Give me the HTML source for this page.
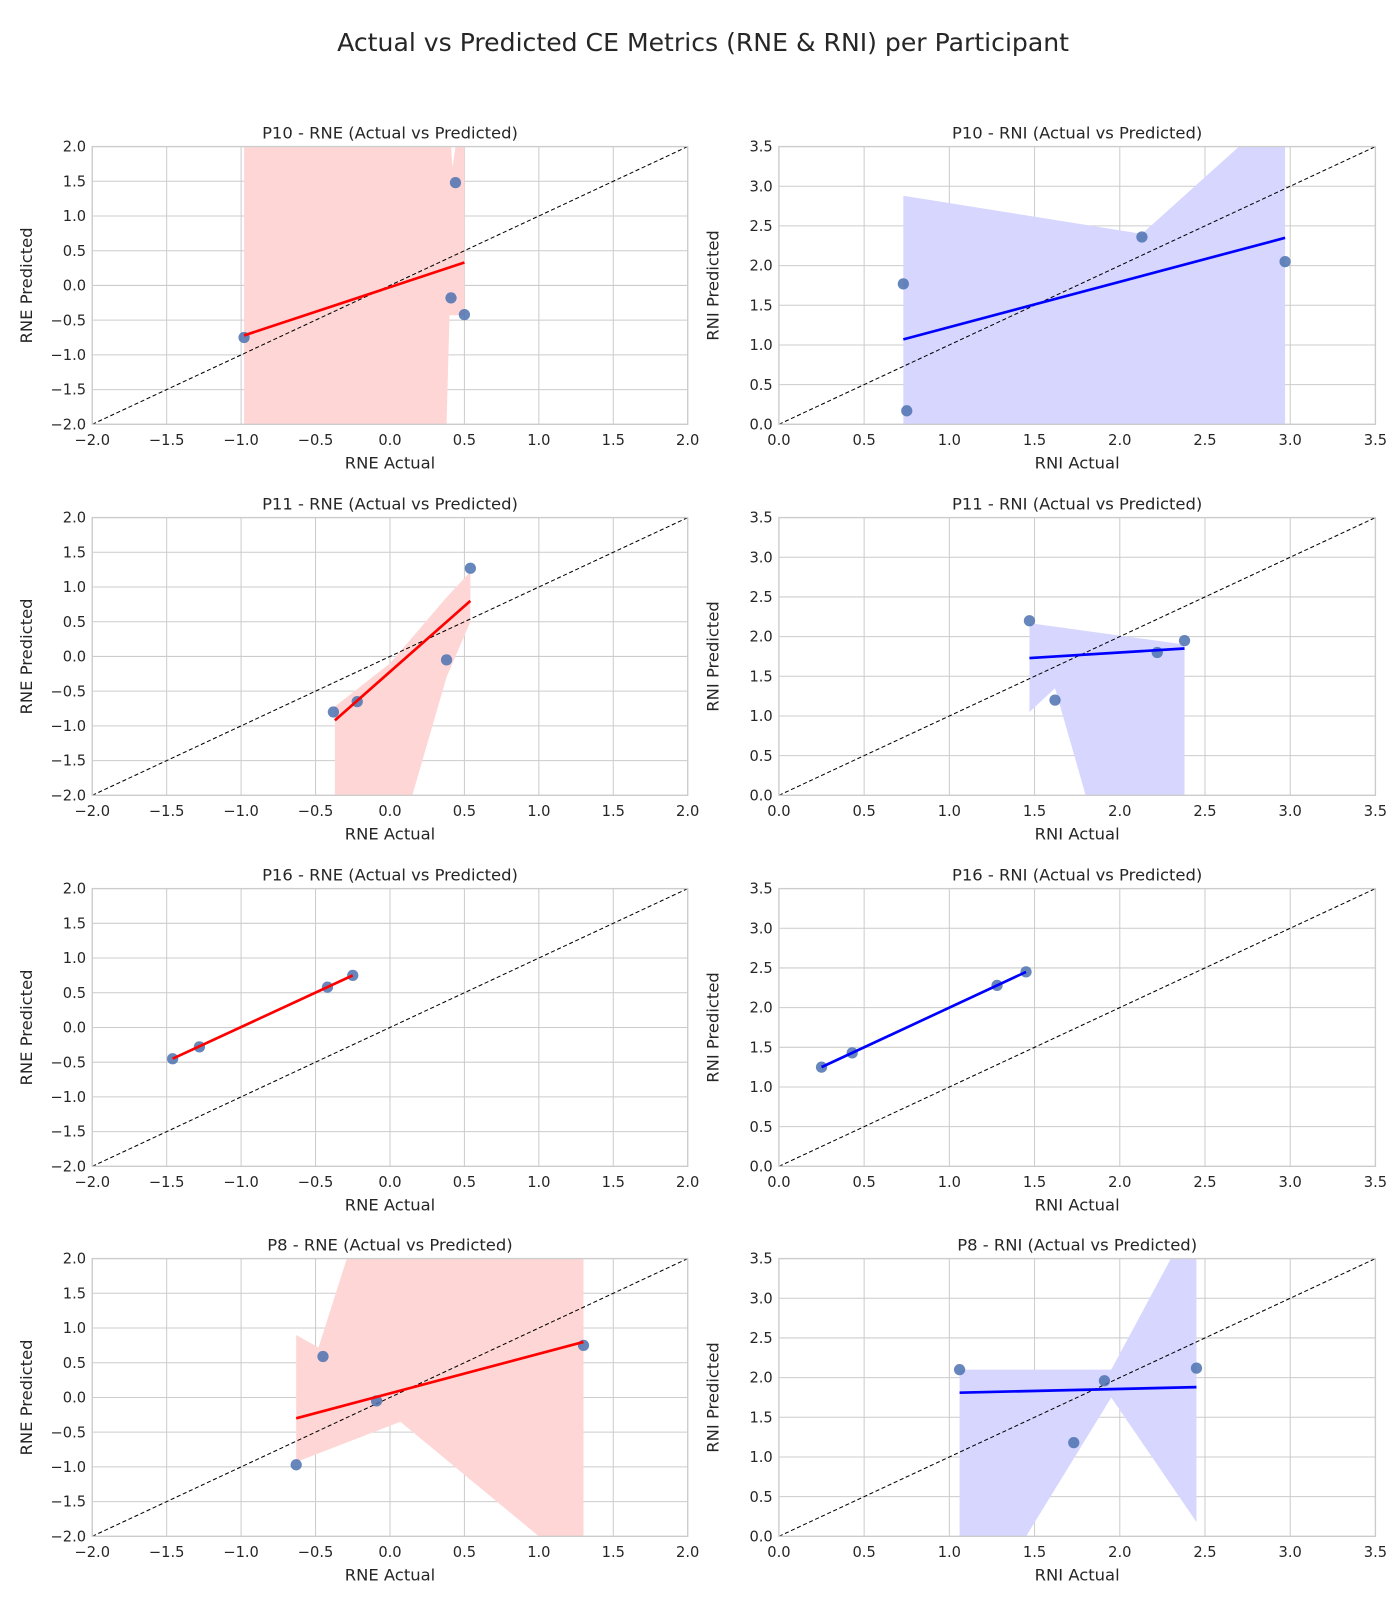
<!DOCTYPE html>
<html><head><meta charset="utf-8"><style>
body{margin:0;background:#fff;}
svg text{font-family:"DejaVu Sans","Liberation Sans",sans-serif;fill:#262626;}
</style></head>
<body>
<svg width="1400" height="1600" viewBox="0 0 1400 1600" xmlns="http://www.w3.org/2000/svg">
<g id="fig" transform="scale(1.0249)">
<text x="686" y="50" text-anchor="middle" font-size="24.5">Actual vs Predicted CE Metrics (RNE &amp; RNI) per Participant</text>
</g>
</svg>
<script>
const participants = ["P10","P11","P16","P8"];
const rneTicks = [-2.0,-1.5,-1.0,-0.5,0.0,0.5,1.0,1.5,2.0];
const rniTicks = [0.0,0.5,1.0,1.5,2.0,2.5,3.0,3.5];
// RNE points [actual, predicted]
const rneP10 = [[-0.98,-0.75],[0.44,1.48],[0.41,-0.18],[0.50,-0.42]];
const rneP11 = [[-0.38,-0.80],[-0.22,-0.65],[0.38,-0.05],[0.54,1.27]];
const rneP16 = [[-1.46,-0.45],[-1.28,-0.28],[-0.42,0.58],[-0.25,0.75]];
const rneP8  = [[-0.63,-0.97],[-0.45,0.59],[-0.09,-0.05],[1.30,0.75]];
const rniP10 = [[0.73,1.77],[0.75,0.17],[2.13,2.36],[2.97,2.05]];
const rniP11 = [[1.47,2.20],[1.62,1.20],[2.22,1.80],[2.38,1.95]];
const rniP16 = [[0.25,1.25],[0.43,1.43],[1.28,2.28],[1.45,2.45]];
const rniP8  = [[1.06,2.10],[1.73,1.18],[1.91,1.96],[2.45,2.12]];
// regression line endpoints [x0,y0,x1,y1]
const rneFitP10 = [-0.98,-0.72,0.50,0.33];
const rneFitP11 = [-0.37,-0.92,0.54,0.80];
const rneFitP16 = [-1.46,-0.45,-0.25,0.75];
const rneFitP8  = [-0.63,-0.30,1.30,0.80];
const rniFitP10 = [0.73,1.07,2.97,2.35];
const rniFitP11 = [1.47,1.73,2.38,1.85];
const rniFitP16 = [0.25,1.25,1.45,2.45];
const rniFitP8  = [1.06,1.81,2.45,1.88];
// confidence band polygons (upper edge then lower edge), data units
const rneBandP10 = [[-0.98,2],[0.41,2],[0.42,1.7],[0.44,2],[0.50,2],[0.50,-0.43],[0.40,-0.43],[0.38,-2],[-0.98,-2]];
const rneBandP11 = [[-0.37,-0.72],[0.0,-0.1],[0.38,0.85],[0.54,1.22],[0.54,0.5],[0.38,-0.3],[0.15,-2],[-0.37,-2]];
const rneBandP16 = [];
const rneBandP8  = [[-0.63,0.9],[-0.48,0.72],[-0.29,2],[1.30,2],[1.30,-2],[1.0,-2],[0.07,-0.35],[-0.63,-0.93]];
const rniBandP10 = [[0.73,2.88],[2.13,2.40],[2.70,3.5],[2.97,3.5],[2.97,0],[0.73,0]];
const rniBandP11 = [[1.47,2.17],[2.38,1.90],[2.38,0],[1.80,0],[1.62,1.35],[1.47,1.05]];
const rniBandP16 = [];
const rniBandP8  = [[1.06,2.10],[1.95,2.10],[2.30,3.5],[2.45,3.5],[2.45,0.18],[1.95,1.75],[1.45,0],[1.06,0]];

const rneSets = [rneP10,rneP11,rneP16,rneP8];
const rniSets = [rniP10,rniP11,rniP16,rniP8];
const rneFits = [rneFitP10,rneFitP11,rneFitP16,rneFitP8];
const rniFits = [rniFitP10,rniFitP11,rniFitP16,rniFitP8];
const rneBands = [rneBandP10,rneBandP11,rneBandP16,rneBandP8];
const rniBands = [rniBandP10,rniBandP11,rniBandP16,rniBandP8];

const NS="http://www.w3.org/2000/svg";
const svg=document.getElementById('fig');
function mk(tag,attrs,parent){const e=document.createElementNS(NS,tag);for(const k in attrs)e.setAttribute(k,attrs[k]);(parent||svg).appendChild(e);return e;}

const rowTops=[143,505,867,1228], H=271;
function panel(row,kind){
  const isRne=kind==="RNE";
  const L=isRne?90:760, R=isRne?671:1342, T=rowTops[row], B=T+H;
  const lo=isRne?-2:0, hi=isRne?2:3.5;
  const ticks=isRne?rneTicks:rniTicks;
  const sx=v=>L+(v-lo)/(hi-lo)*(R-L);
  const sy=v=>B-(v-lo)/(hi-lo)*(B-T);
  const g=mk('g',{});
  
  
  const cid='clip'+row+kind;
  const cp=mk('clipPath',{id:cid},g); mk('rect',{x:L,y:T,width:R-L,height:H},cp);
  ticks.forEach(t=>{
    mk('line',{x1:sx(t),x2:sx(t),y1:T,y2:B,stroke:'#cccccc','stroke-width':1},g);
    mk('line',{x1:L,x2:R,y1:sy(t),y2:sy(t),stroke:'#cccccc','stroke-width':1},g);
    const xt=mk('text',{x:sx(t),y:B+20,'text-anchor':'middle','font-size':14.3},g);
    xt.textContent=(t<0?'\u2212'+(-t).toFixed(1):t.toFixed(1));
    
    
    const yt=mk('text',{x:L-6,y:sy(t)+5,'text-anchor':'end','font-size':14.3},g);
    yt.textContent=(t<0?'\u2212'+(-t).toFixed(1):t.toFixed(1));
    
    
  });
  const clipG=mk('g',{'clip-path':'url(#'+cid+')'},g);
  const band=(isRne?rneBands:rniBands)[row];
  if(band.length){
    const p=mk('polygon',{points:band.map(d=>sx(d[0])+','+sy(d[1])).join(' '),fill:isRne?'#ffd6d6':'#d6d6ff'},clipG);
    
    
  }
  const diag=mk('line',{x1:sx(lo),y1:sy(lo),x2:sx(hi),y2:sy(hi),stroke:'#000','stroke-width':1,'stroke-dasharray':'4,2.5'},clipG);
  
  
  (isRne?rneSets:rniSets)[row].forEach(d=>{
    const c=mk('circle',{cx:sx(d[0]),cy:sy(d[1]),r:5.5,fill:'#4c72b0','fill-opacity':0.85},clipG);
    
    
  });
  const f=(isRne?rneFits:rniFits)[row];
  const fl=mk('line',{x1:sx(f[0]),y1:sy(f[1]),x2:sx(f[2]),y2:sy(f[3]),stroke:isRne?'#ff0000':'#0000ff','stroke-width':2.6},clipG);
  
  
  mk('rect',{x:L,y:T,width:R-L,height:H,fill:'none',stroke:'#cccccc','stroke-width':1.3},g);
  const tt=mk('text',{x:(L+R)/2,y:T-8,'text-anchor':'middle','font-size':16},g);
  tt.textContent=participants[row]+' - '+kind+' (Actual vs Predicted)';
  
  
  const xl=mk('text',{x:(L+R)/2,y:B+43,'text-anchor':'middle','font-size':16},g);
  xl.textContent=kind+' Actual';
  
  
  const yx=L-59, yy=(T+B)/2;
  const yl=mk('text',{x:yx,y:yy,'text-anchor':'middle','font-size':16,transform:'rotate(-90 '+yx+' '+yy+')'},g);
  yl.textContent=kind+' Predicted';
  
  
}
for(let r=0;r<4;r++){panel(r,"RNE");panel(r,"RNI");}
</script>
</body></html>
